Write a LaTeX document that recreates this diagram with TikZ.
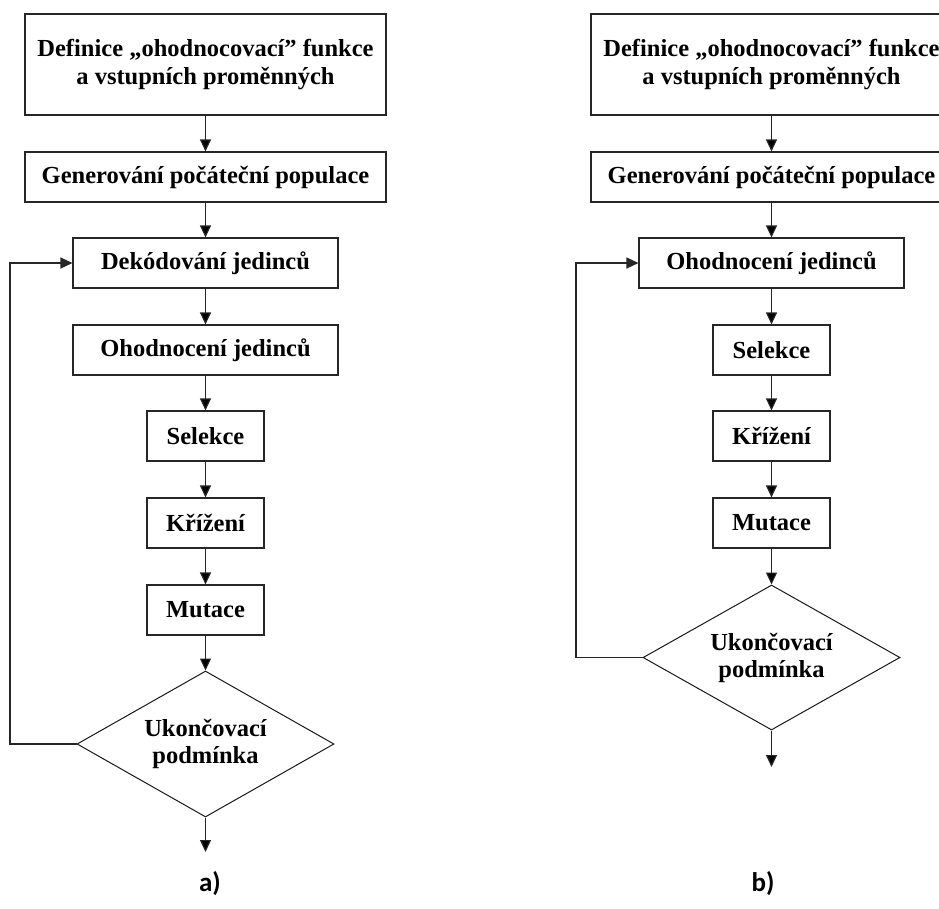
\documentclass[tikz,border=0pt]{standalone}
\usepackage{fontspec}
\setmainfont{Liberation Serif}
\newfontfamily\popisfont{Carlito}
\usetikzlibrary{arrows.meta,shapes.geometric}
\tikzset{krok/.style={rectangle,draw=black!85,line width=1.1pt,inner sep=0pt,
  minimum height=50pt,align=center,font=\bfseries\fontsize{24.5}{28}\selectfont}}
\tikzset{podminka/.style={diamond,aspect=1.76,draw=black!90,line width=1pt,inner sep=0pt,
  minimum width=257pt,minimum height=146pt,align=center,
  font=\bfseries\fontsize{24.5}{27}\selectfont}}
\tikzset{sipka/.style={-{Triangle[length=12pt,width=11pt]},line width=1.2pt,draw=black!85}}
\tikzset{popis/.style={font=\popisfont\bfseries\fontsize{27}{30}\selectfont}}

\begin{document}
\begin{tikzpicture}[x=1pt,y=-1pt]
\useasboundingbox (0,0) rectangle (939,908);
\clip (0,0) rectangle (939,908);
% a)
\node (defA) [krok,minimum width=361pt,minimum height=101pt] at (205.5,64.5) {Definice „ohodnocovací” funkce\\a vstupních proměnných};
\node (genA) [krok,minimum width=361pt] at (205.5,177) {Generování počáteční populace};
\node (dekA) [krok,minimum width=265pt] at (205.5,263) {Dekódování jedinců};
\node (ohoA) [krok,minimum width=265pt] at (205.5,350) {Ohodnocení jedinců};
\node (selA) [krok,minimum width=117pt] at (205.5,436) {Selekce};
\node (kriA) [krok,minimum width=117pt] at (205.5,523) {Křížení};
\node (mutA) [krok,minimum width=117pt] at (205.5,610) {Mutace};
\node (podA) [podminka] at (205.5,744) {Ukončovací\\podmínka};
\coordinate (konecA) at (205.5,852);
\coordinate (smyckaA) at (10,263);
\node (popA) [popis] at (210,884) {a)};
%
\path[sipka] (defA) edge (genA) (genA) edge (dekA) (dekA) edge (ohoA) (ohoA) edge (selA)
  (selA) edge (kriA) (kriA) edge (mutA) (mutA) edge (podA) (podA) edge (konecA);
\draw[sipka] (podA.west) -| (smyckaA) -- (dekA.west);
% b)
\node (defB) [krok,minimum width=361pt,minimum height=101pt] at (771.5,64.5) {Definice „ohodnocovací” funkce\\a vstupních proměnných};
\node (genB) [krok,minimum width=361pt] at (771.5,177) {Generování počáteční populace};
\node (ohoB) [krok,minimum width=265pt] at (771.5,263) {Ohodnocení jedinců};
\node (selB) [krok,minimum width=117pt] at (771.5,350) {Selekce};
\node (kriB) [krok,minimum width=117pt] at (771.5,436) {Křížení};
\node (mutB) [krok,minimum width=117pt] at (771.5,523) {Mutace};
\node (podB) [podminka,minimum height=145pt] at (771.5,657.5) {Ukončovací\\podmínka};
\coordinate (konecB) at (771.5,767);
\coordinate (smyckaB) at (576,263);
\node (popB) [popis] at (763,884) {b)};
%
\path[sipka] (defB) edge (genB) (genB) edge (ohoB) (ohoB) edge (selB) (selB) edge (kriB)
  (kriB) edge (mutB) (mutB) edge (podB) (podB) edge (konecB);
\draw[sipka] (podB.west) -| (smyckaB) -- (ohoB.west);
\end{tikzpicture}
\end{document}
